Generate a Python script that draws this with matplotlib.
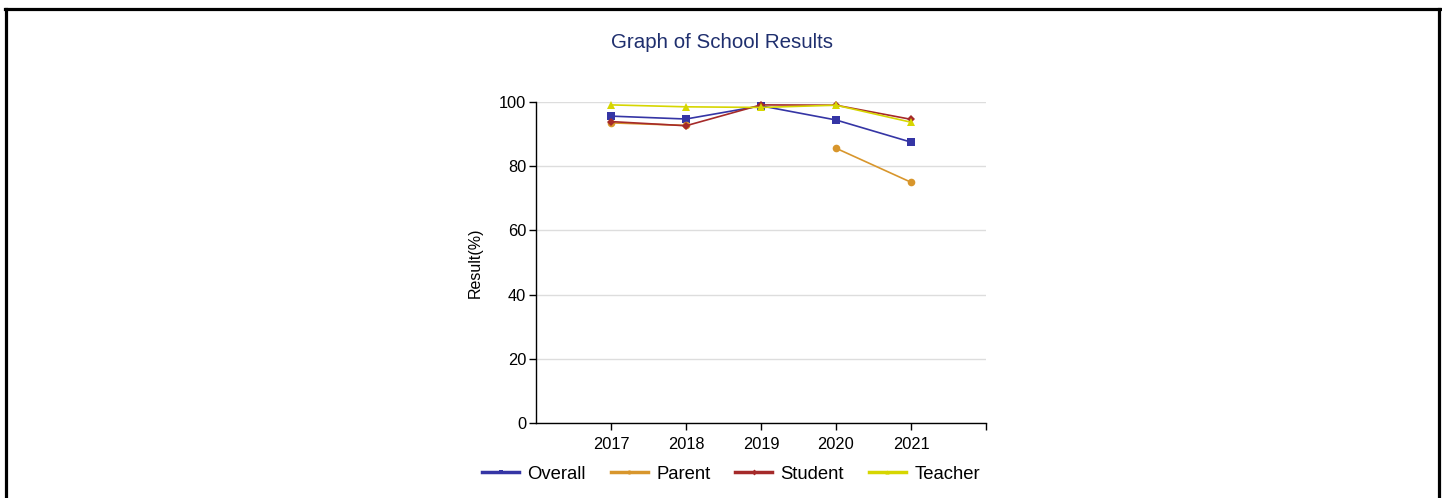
import numpy as np
import matplotlib
matplotlib.use("Agg")
import matplotlib.pyplot as plt
from matplotlib.lines import Line2D

plt.rcParams['font.family'] = ['Liberation Sans', 'DejaVu Sans']

# ===== data =====
years = ["2017", "2018", "2019", "2020", "2021"]
overall = [95.6, 94.7, 98.8, 94.4, 87.5]
parent = [93.5, 92.7, np.nan, 85.6, 75.0]
student = [93.9, 92.6, 99.1, 99.0, 94.6]
teacher = [99.1, 98.5, 98.3, 99.0, 93.7]

series = [
    ("Overall", overall, "#3535a5", "s", 6),
    ("Parent", parent, "#d8962c", "o", 5.5),
    ("Student", student, "#a52a2a", "D", 4.5),
    ("Teacher", teacher, "#d6d600", "^", 6),
]

fig = plt.figure(figsize=(14.42, 4.98), dpi=100)
ax = fig.add_axes([536 / 1442, 1 - 423 / 498, 450 / 1442, 321 / 498])

x = np.arange(len(years))
handles = []
for name, vals, col, mk, ms in series:
    ax.plot(x, vals, color=col, lw=1.2, marker=mk, markersize=ms,
            markeredgewidth=0, clip_on=False, zorder=3)
    handles.append(Line2D([0], [0], color=col, lw=2.5, marker=mk, markersize=3,
                          markeredgewidth=0))

ax.set_xlim(-1, 5)
ax.set_ylim(0, 100)
ax.set_xticks(list(x) + [5])
ax.set_xticklabels(years + [""])
ax.set_yticks(range(0, 101, 20))
ax.tick_params(axis="both", labelsize=11.8, length=5, width=1, color="black",
               labelcolor="black")
ax.tick_params(axis="y", pad=2)
ax.tick_params(axis="x", pad=5)
ax.grid(axis="y", color="#dddddd", lw=1)
ax.set_axisbelow(True)
for s in ("top", "right"):
    ax.spines[s].set_visible(False)
for s in ("left", "bottom"):
    ax.spines[s].set_linewidth(1)
ax.set_ylabel("Result(%)", fontsize=11.5, labelpad=12)

fig.text(722 / 1442, 1 - 42 / 498, "Graph of School Results", ha="center",
         va="center", fontsize=14.8, color="#1f2f6e")

fig.legend(handles, [s[0] for s in series], loc="center",
           bbox_to_anchor=(731 / 1442, 1 - 474 / 498), ncol=4, frameon=False,
           fontsize=13.3, handlelength=2.0, columnspacing=1.35, handletextpad=0.45)

# outer frame
bw = 2.3
fig.add_artist(Line2D([6 / 1442, 6 / 1442], [0, 1 - 9 / 498], color="black",
                      lw=bw, transform=fig.transFigure))
fig.add_artist(Line2D([1439 / 1442, 1439 / 1442], [0, 1 - 9 / 498], color="black",
                      lw=bw, transform=fig.transFigure))
fig.add_artist(Line2D([5 / 1442, 1440 / 1442], [1 - 9 / 498, 1 - 9 / 498],
                      color="black", lw=bw, transform=fig.transFigure))

fig.savefig("out.png", dpi=100)
